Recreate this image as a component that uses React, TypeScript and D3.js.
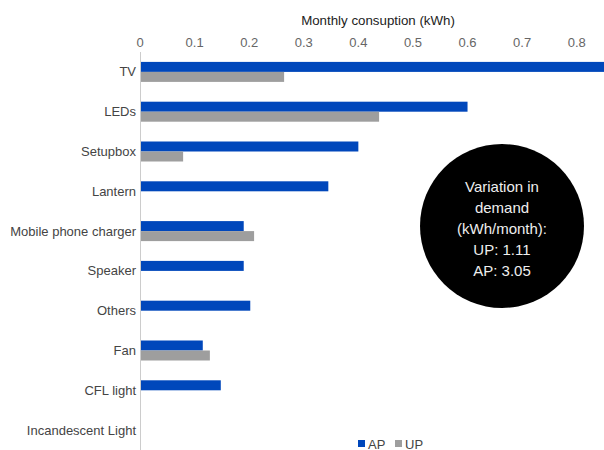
import * as d3 from 'd3';

const categories = [
  'TV',
  'LEDs',
  'Setupbox',
  'Lantern',
  'Mobile phone charger',
  'Speaker',
  'Others',
  'Fan',
  'CFL light',
  'Incandescent Light'
];

// monthly consumption (kWh)
const apValues = [0.87, 0.6, 0.4, 0.345, 0.19, 0.19, 0.202, 0.115, 0.148, 0];
const upValues = [0.264, 0.438, 0.079, 0, 0.209, 0, 0, 0.128, 0, 0];

const seriesNames = ['AP', 'UP'];
const seriesColors = ['#0047BB', '#9E9E9E'];

const xTicks = [0, 0.1, 0.2, 0.3, 0.4, 0.5, 0.6, 0.7, 0.8];

const noteLines = ['Variation in', 'demand', '(kWh/month):', 'UP: 1.11', 'AP: 3.05'];

const W = 604;
const H = 450;
const FONT = '"Liberation Sans", Arial, sans-serif';

export default function App() {
  const x = d3.scaleLinear().domain([0, 0.85]).range([140, 604]);
  const y = d3.scaleBand().domain(categories).range([52, 450]);
  const y1 = d3
    .scaleBand()
    .domain(seriesNames)
    .range([0, y.bandwidth()])
    .paddingOuter(0.99);

  const rows = categories.map((c, i) => ({ c, values: [apValues[i], upValues[i]] }));

  return (
    <svg
      width={W}
      height={H}
      style={{ position: 'absolute', left: 0, top: 0 }}
      fontFamily={FONT}
    >
      <defs>
        <clipPath id="plot">
          <rect x={140} y={0} width={W - 140} height={H} />
        </clipPath>
      </defs>
      <rect width={W} height={H} fill="#fff" />

      {/* axis title */}
      <text x={378} y={25} textAnchor="middle" fontSize={13.3} fill="#222">
        Monthly consuption (kWh)
      </text>

      {/* top tick labels */}
      {xTicks.map(t => (
        <text key={t} x={x(t)} y={47} textAnchor="middle" fontSize={13} fill="#666">
          {t === 0 ? '0' : d3.format('.1f')(t)}
        </text>
      ))}

      {/* baseline */}
      <line x1={140.5} x2={140.5} y1={52} y2={450} stroke="#ccc" strokeWidth={1} />

      {/* bars */}
      <g clipPath="url(#plot)">
        {rows.map(r =>
          r.values.map((v, j) =>
            v > 0 ? (
              <rect
                key={r.c + j}
                x={x(0) + 1}
                y={y(r.c)! + y1(seriesNames[j])!}
                width={x(v) - x(0) - 1}
                height={y1.bandwidth()}
                fill={seriesColors[j]}
              />
            ) : null
          )
        )}
      </g>

      {/* category labels */}
      {categories.map(c => (
        <text
          key={c}
          x={136}
          y={y(c)! + y.bandwidth() / 2}
          dy="0.35em"
          textAnchor="end"
          fontSize={13}
          fill="#444"
        >
          {c}
        </text>
      ))}

      {/* note circle */}
      <circle cx={502} cy={226} r={82} fill="#000" />
      {noteLines.map((l, i) => (
        <text
          key={l}
          x={502}
          y={192 + i * 21}
          textAnchor="middle"
          fontSize={15}
          fill="#eee"
        >
          {l}
        </text>
      ))}

      {/* legend */}
      {seriesNames.map((s, i) => (
        <g key={s} transform={`translate(${358 + i * 37},440)`}>
          <rect width={7} height={7} fill={seriesColors[i]} />
          <text x={10} y={8.5} fontSize={13} fill="#444">
            {s}
          </text>
        </g>
      ))}
    </svg>
  );
}
